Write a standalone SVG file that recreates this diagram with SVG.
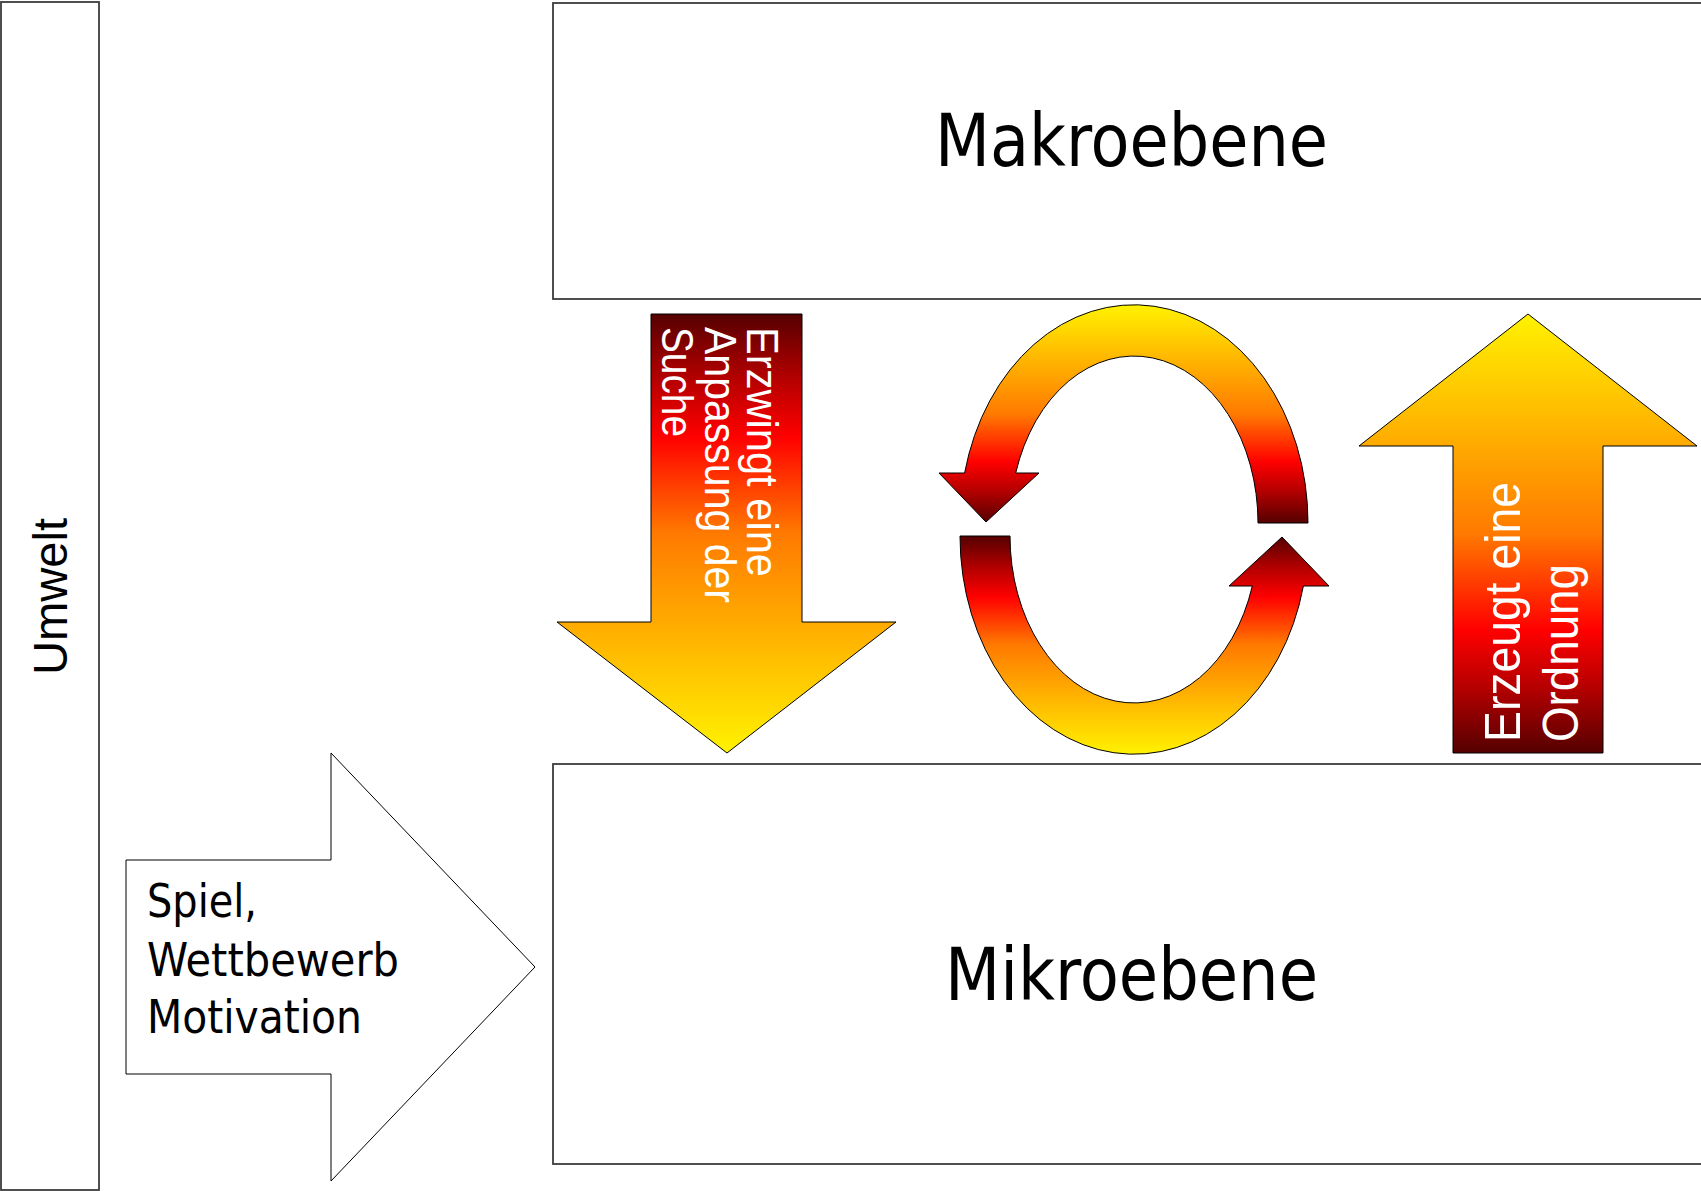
<svg xmlns="http://www.w3.org/2000/svg" width="1701" height="1191" viewBox="0 0 1701 1191">
  <defs>
    <linearGradient id="fireUp" x1="0" y1="0" x2="0" y2="1">
      <stop offset="0" stop-color="#fff200"/>
      <stop offset="0.3" stop-color="#ffaa00"/>
      <stop offset="0.5" stop-color="#ff7a00"/>
      <stop offset="0.72" stop-color="#ff0000"/>
      <stop offset="0.86" stop-color="#b00000"/>
      <stop offset="1" stop-color="#550000"/>
    </linearGradient>
    <linearGradient id="fireDown" x1="0" y1="1" x2="0" y2="0">
      <stop offset="0" stop-color="#fff200"/>
      <stop offset="0.3" stop-color="#ffaa00"/>
      <stop offset="0.5" stop-color="#ff7a00"/>
      <stop offset="0.72" stop-color="#ff0000"/>
      <stop offset="0.86" stop-color="#b00000"/>
      <stop offset="1" stop-color="#550000"/>
    </linearGradient>
  </defs>
  <style>
    .box { fill: #ffffff; stroke: #3c3c3c; stroke-width: 1.8; }
    .arrow { stroke: #000000; stroke-width: 1; stroke-linejoin: miter; }
    .tah { font-family: "DejaVu Sans Condensed", "DejaVu Sans", sans-serif; font-stretch: condensed; fill: #000000; }
    .ari { font-family: "Liberation Sans", Arial, sans-serif; fill: #ffffff; }
    .ariblk { font-family: "Liberation Sans", Arial, sans-serif; fill: #000000; }
  </style>
  <rect width="1701" height="1191" fill="#ffffff"/>

  <g id="umwelt">
    <rect class="box" x="1" y="2" width="98" height="1188"/>
    <text class="ariblk" font-size="48" transform="translate(67,675) rotate(-90)" textLength="157" lengthAdjust="spacingAndGlyphs">Umwelt</text>
  </g>

  <g id="makroebene">
    <rect class="box" x="553" y="3" width="1160" height="296"/>
    <text class="tah" font-size="73" x="935" y="166" textLength="393" lengthAdjust="spacingAndGlyphs">Makroebene</text>
  </g>

  <g id="mikroebene">
    <rect class="box" x="553" y="764" width="1160" height="400"/>
    <text class="tah" font-size="73" x="945" y="1000" textLength="373" lengthAdjust="spacingAndGlyphs">Mikroebene</text>
  </g>

  <g id="spiel">
    <path d="M126,860 H331 V753 L535,967 L331,1181 V1074 H126 Z" fill="#ffffff" stroke="#000000" stroke-width="1"/>
    <text class="tah" font-size="46" x="147" y="917" textLength="110" lengthAdjust="spacingAndGlyphs">Spiel,</text>
    <text class="tah" font-size="46" x="147" y="976" textLength="252" lengthAdjust="spacingAndGlyphs">Wettbewerb</text>
    <text class="tah" font-size="46" x="147" y="1033" textLength="215" lengthAdjust="spacingAndGlyphs">Motivation</text>
  </g>

  <g id="anpassung">
    <path class="arrow" d="M651,314 H802 V622 H896 L727,753 L557,622 H651 Z" fill="url(#fireDown)"/>
    <g transform="rotate(90)">
      <text class="ari" font-size="45" x="327" y="-747" textLength="250" lengthAdjust="spacingAndGlyphs">Erzwingt eine</text>
      <text class="ari" font-size="45" x="327" y="-705" textLength="276" lengthAdjust="spacingAndGlyphs">Anpassung der</text>
      <text class="ari" font-size="45" x="327" y="-662" textLength="110" lengthAdjust="spacingAndGlyphs">Suche</text>
    </g>
  </g>

  <g id="ordnung">
    <path class="arrow" d="M1453,753 V446 H1359 L1528,314 L1697,446 H1603 V753 Z" fill="url(#fireUp)"/>
    <g transform="rotate(-90)">
      <text class="ari" font-size="50" x="-742" y="1520" textLength="260" lengthAdjust="spacingAndGlyphs">Erzeugt eine</text>
      <text class="ari" font-size="50" x="-742" y="1578" textLength="178" lengthAdjust="spacingAndGlyphs">Ordnung</text>
    </g>
  </g>

  <g id="kreislauf">
    <path class="arrow" d="M1308,523 A174,218 0 0 0 964.6,473 L939,473 L986,522 L1039,473 L1015.7,473 A124,167 0 0 1 1258,523 Z" fill="url(#fireUp)"/>
    <path class="arrow" d="M1308,523 A174,218 0 0 0 964.6,473 L939,473 L986,522 L1039,473 L1015.7,473 A124,167 0 0 1 1258,523 Z" fill="url(#fireUp)" transform="rotate(180 1134 529.5)"/>
  </g>

  <g id="connectors"/>
</svg>
